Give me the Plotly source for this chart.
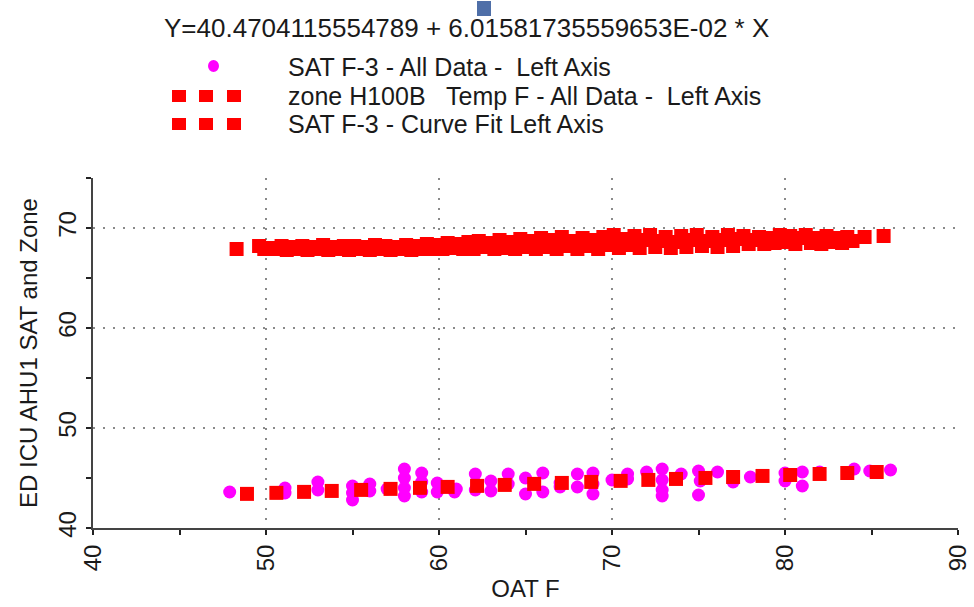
import plotly.graph_objects as go

# ---------------- data ----------------
zone_x = [48.3, 49.6, 49.9, 50.3,
          50.6, 50.9, 51.2, 51.5, 51.8, 52.1, 52.4, 52.7, 53.0, 53.3, 53.6, 53.9, 54.2, 54.5,
          54.8, 55.1, 55.4, 55.7, 56.0, 56.3, 56.6, 56.9, 57.2, 57.5, 57.8, 58.1, 58.4, 58.7,
          59.0, 59.3, 59.6, 59.9,
          60.2, 60.5, 60.8, 61.1, 61.4, 61.7, 62.0, 62.3, 62.6, 62.9, 63.2, 63.5, 63.8, 64.1,
          64.4, 64.7, 65.0, 65.3, 65.6, 65.9, 66.2, 66.5, 66.8, 67.1, 67.4, 67.7, 68.0, 68.3,
          68.6, 68.9, 69.2, 69.5, 69.8,
          70.1, 70.4, 70.7, 71.0, 71.3, 71.6, 71.9, 72.2, 72.5, 72.8, 73.1, 73.4, 73.7, 74.0,
          74.3, 74.6, 74.9, 75.2, 75.5, 75.8, 76.1, 76.4, 76.7, 77.0, 77.3, 77.6, 77.9, 78.2,
          78.5, 78.8, 79.1, 79.4, 79.7,
          80.0, 80.3, 80.6, 80.9, 81.2, 81.5, 81.8, 82.1, 82.4, 82.7, 83.0, 83.3, 83.6, 83.9,
          84.6, 85.7]
zone_y = [67.9, 68.2, 67.9, 68.0,
          67.9, 68.2, 67.8, 68.1, 67.9, 68.2, 67.8, 68.1, 67.9, 68.3, 67.8, 68.1, 67.9, 68.2,
          67.8, 68.2, 67.9, 68.1, 67.8, 68.3, 67.9, 68.2, 67.8, 68.1, 67.9, 68.3, 67.8, 68.2,
          67.9, 68.4, 67.9, 68.3,
          67.9, 68.5, 68.0, 68.4, 67.9, 68.6, 67.9, 68.7, 68.1, 68.5, 67.9, 68.8, 68.0, 68.6,
          67.9, 68.9, 68.1, 68.7, 67.9, 69.0, 68.1, 68.8, 67.9, 69.1, 68.2, 68.7, 67.9, 69.0,
          68.2, 68.8, 67.9, 69.1, 68.3,
          69.3, 68.0, 68.9, 68.3, 69.2, 68.0, 68.8, 69.3, 68.1, 68.7, 69.1, 68.0, 68.6, 69.2,
          68.1, 68.8, 69.3, 68.2, 68.7, 69.1, 68.1, 68.8, 69.3, 68.2, 68.9, 69.2, 68.4, 68.8,
          69.1, 68.4, 69.0, 68.5, 69.3,
          68.6, 69.2, 68.4, 69.0, 69.3, 68.5, 69.0, 68.4, 69.2, 68.6, 69.0, 68.5, 69.1, 68.7,
          69.1, 69.2]

sat_x = [47.9, 51.1, 51.1, 53.0, 53.0, 55.0, 55.0, 55.0, 56.0, 56.0, 57.0, 58.0, 58.0, 58.0,
         58.0, 59.0, 59.0, 59.0, 59.9, 59.9, 60.9, 61.0, 62.1, 62.1, 63.0, 63.0, 64.0, 64.0,
         65.0, 65.0, 66.0, 66.0, 67.0, 67.0, 68.0, 68.0, 68.9, 68.9, 68.9, 70.0, 70.9, 70.9,
         72.0, 72.9, 72.9, 72.9, 72.9, 74.0, 75.0, 75.0, 75.1, 76.1, 77.0, 78.0, 80.0, 80.0,
         81.0, 81.0, 82.0, 84.0, 84.9, 86.1]
sat_y = [43.6, 44.0, 43.5, 44.6, 43.8, 44.2, 43.5, 42.8, 44.4, 43.7, 43.9, 45.9, 45.0, 44.0,
         43.2, 45.5, 44.6, 43.6, 44.5, 43.6, 43.6, 43.9, 45.4, 43.8, 44.7, 43.7, 45.4, 44.4,
         45.0, 43.4, 45.5, 43.6, 44.5, 44.1, 45.4, 44.1, 45.5, 44.4, 43.4, 44.8, 45.4, 44.9,
         45.6, 45.9, 44.8, 43.8, 43.2, 45.4, 45.7, 43.3, 44.7, 45.6, 44.6, 45.1, 45.5, 44.7,
         45.6, 44.2, 45.6, 45.9, 45.7, 45.8]

fit_x = [48.9, 50.6, 52.2, 53.8, 55.5, 57.2, 58.9, 60.5, 62.2, 63.8, 65.5, 67.1, 68.8, 70.5,
         72.1, 73.7, 75.4, 77.0, 78.7, 80.3, 82.0, 83.6, 85.3]
fit_y = [43.412, 43.514, 43.611, 43.707, 43.809, 43.911, 44.014, 44.110, 44.212, 44.308,
         44.411, 44.507, 44.609, 44.712, 44.808, 44.904, 45.006, 45.103, 45.205, 45.301,
         45.403, 45.500, 45.602]

title_text = "Y=40.4704115554789 + 6.01581735559653E-02 * X"
legend_names = ["SAT F-3 - All Data -  Left Axis",
                "zone H100B   Temp F - All Data -  Left Axis",
                "SAT F-3 - Curve Fit Left Axis"]
x_title = "OAT F"
y_title = "ED ICU AHU1 SAT and Zone"
x_range = [40, 90]
y_range = [40, 75]

# ---------------- figure ----------------
W, H = 974, 607
L, R, T, B = 93, 16, 178, 79
PW, PH = W - L - R, H - T - B

def px(xpix):
    return (xpix - L) / PW

def py(ypix):
    return (H - B - ypix) / PH

FONT = "Liberation Sans, Arial, sans-serif"
TXT = "#1a1a1a"

fig = go.Figure()
fig.add_trace(go.Scatter(x=zone_x, y=zone_y, mode="markers", name=legend_names[1],
                         marker=dict(symbol="square", size=14, color="#ff0000", line=dict(width=0))))
fig.add_trace(go.Scatter(x=sat_x, y=sat_y, mode="markers", name=legend_names[0],
                         marker=dict(symbol="circle", size=13, color="#ff00ff", line=dict(width=0))))
fig.add_trace(go.Scatter(x=fit_x, y=fit_y, mode="markers", name=legend_names[2],
                         marker=dict(symbol="square", size=14, color="#ff0000", line=dict(width=0))))

axis_common = dict(
    showline=True, linecolor="#444", linewidth=2,
    ticks="outside", ticklen=5, tickwidth=2, tickcolor="#222",
    showgrid=True, gridcolor="#8a8a8a", gridwidth=2, griddash="2px,8px",
    zeroline=False, tickangle=-90, dtick=10, automargin=False,
    tickfont=dict(family=FONT, size=24, color=TXT),
    minor=dict(dtick=5, ticks="outside", ticklen=5, tickwidth=2, tickcolor="#222", showgrid=False),
)

fig.update_xaxes(range=x_range, tick0=40,
                 title=dict(text=x_title, font=dict(family=FONT, size=24, color=TXT), standoff=10),
                 **axis_common)
fig.update_yaxes(range=y_range, tick0=40,
                 title=dict(text=y_title, font=dict(family=FONT, size=24, color=TXT), standoff=10),
                 **axis_common)

shapes = []
# small blue square at top
shapes.append(dict(type="rect", xref="paper", yref="paper",
                   x0=px(477), x1=px(491), y0=py(16), y1=py(1),
                   fillcolor="#4f6fa8", line=dict(width=0)))
# legend swatches
shapes.append(dict(type="circle", xref="paper", yref="paper",
                   x0=px(208), x1=px(219), y0=py(72), y1=py(60),
                   fillcolor="#ff00ff", line=dict(width=0)))
for cy in (96, 124):
    for cx in (179, 206, 234):
        shapes.append(dict(type="rect", xref="paper", yref="paper",
                           x0=px(cx - 7), x1=px(cx + 7), y0=py(cy + 6), y1=py(cy - 6),
                           fillcolor="#ff0000", line=dict(width=0)))

annotations = []
annotations.append(dict(text=title_text, xref="paper", yref="paper", x=px(466), y=py(28),
                        xanchor="center", yanchor="middle", showarrow=False,
                        font=dict(family=FONT, size=26, color=TXT)))
for name, cy in zip(legend_names, (67, 96, 124)):
    annotations.append(dict(text=name, xref="paper", yref="paper", x=px(286), y=py(cy),
                            xanchor="left", yanchor="middle", showarrow=False,
                            font=dict(family=FONT, size=25, color=TXT)))

fig.update_layout(
    width=W, height=H,
    margin=dict(l=L, r=R, t=T, b=B),
    paper_bgcolor="white", plot_bgcolor="white",
    showlegend=False,
    shapes=shapes, annotations=annotations,
)

fig.write_html("out.html")
